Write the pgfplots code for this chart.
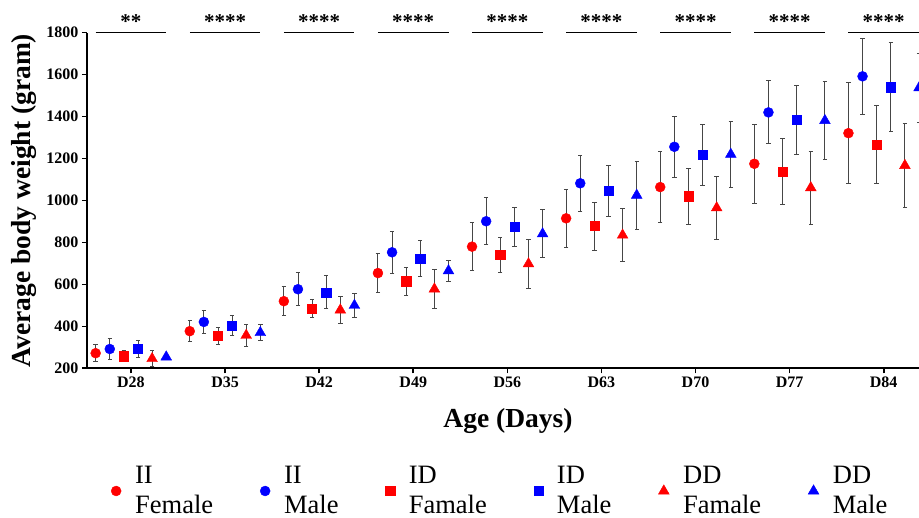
\documentclass[border=0pt]{standalone}
\usepackage{fontspec}
\setmainfont{Liberation Serif}
\usepackage{pgfplots}
\usepackage{pgfplotstable}
\pgfplotsset{compat=1.18}
\definecolor{myred}{RGB}{255,0,0}
\definecolor{myblue}{RGB}{0,0,255}
\definecolor{errgray}{RGB}{70,70,70}

% II Female
\pgfplotstableread{
x y e
-0.375 272 40
0.625 377 50
1.625 520 69
2.625 654 92
3.625 780 113
4.625 915 140
5.625 1064 170
6.625 1175 189
7.625 1321 240
}\IIF
% II Male
\pgfplotstableread{
x y e
-0.225 292 48
0.775 421 57
1.775 577 78
2.775 753 100
3.775 901 112
4.775 1082 133
5.775 1256 145
6.775 1420 150
7.775 1592 182
}\IIM
% ID Female
\pgfplotstableread{
x y e
-0.075 258 27
0.925 356 40
1.925 484 42
2.925 615 67
3.925 740 84
4.925 878 115
5.925 1020 133
6.925 1139 158
7.925 1267 185
}\IDF
% ID Male
\pgfplotstableread{
x y e
0.075 292 40
1.075 404 49
2.075 562 79
3.075 724 86
4.075 875 93
5.075 1045 120
6.075 1218 145
7.075 1384 165
8.075 1540 213
}\IDM
% DD Female
\pgfplotstableread{
x y e
0.225 246 38
1.225 357 51
2.225 478 64
3.225 578 91
4.225 698 117
5.225 835 127
6.225 965 150
7.225 1061 175
8.225 1167 202
}\DDF
% DD Male
\pgfplotstableread{
x y e
0.375 254 8
1.375 370 38
2.375 500 57
3.375 665 50
4.375 841 114
5.375 1025 163
6.375 1220 156
7.375 1381 185
8.375 1537 164
}\DDM

\pgfplotsset{
  errplot/.style={forget plot, only marks, mark=none,
    error bars/y dir=both, error bars/y explicit,
    error bars/error bar style={line width=0.9pt, draw=errgray},
    error bars/error mark options={rotate=90, mark size=2.2pt, line width=0.9pt, draw=errgray}},
}

\begin{document}
\begin{tikzpicture}
\begin{axis}[
  at={(0,0)}, anchor=south west,
  scale only axis, width=832pt, height=335.6pt,
  xmin=-0.467, xmax=8.375, ymin=200, ymax=1800,
  axis x line*=bottom, axis y line*=left,
  axis line style={line width=2.2pt, black},
  xtick={0,1,2,3,4,5,6,7,8},
  xticklabels={D28,D35,D42,D49,D56,D63,D70,D77,D84},
  ytick={200,400,600,800,1000,1200,1400,1600,1800},
  tick align=outside, major tick length=5pt,
  tick style={line width=1.6pt, black},
  minor tick num=0,
  /pgf/number format/assume math mode=true,
  /pgf/number format/1000 sep={},
  scaled y ticks=false,
  ticklabel style={font=\bfseries\fontsize{16}{19}\selectfont},
  xlabel={Age (Days)}, ylabel={Average body weight (gram)},
  label style={font=\bfseries\fontsize{27.5}{33}\selectfont},
  xlabel style={at={(axis description cs:0.506,-0.1779)}, anchor=base},
  ylabel style={at={(axis description cs:-0.0673,0.5)}, anchor=base},
  legend columns=6,
  legend cell align=left,
  legend image code/.code={\draw[#1] plot coordinates {(0pt,0pt)};},
  legend style={at={(axis description cs:0.0288,-0.3656)}, anchor=west,
    draw=none, fill=none, inner sep=0pt,
    font=\fontsize{26.5}{30}\selectfont,
    cells={align=left},
    nodes={inner sep=0pt},
    /tikz/every odd column/.append style={column sep=14pt},
    /tikz/every even column/.append style={column sep=47pt},
    /tikz/column 4/.append style={column sep=51pt},
    /tikz/column 6/.append style={column sep=56pt},
    /tikz/column 10/.append style={column sep=35pt},
  },
]
% error bars first (under the markers)
\addplot[errplot] table[x=x,y=y,y error=e]{\IIF};
\addplot[errplot] table[x=x,y=y,y error=e]{\IIM};
\addplot[errplot] table[x=x,y=y,y error=e]{\IDF};
\addplot[errplot] table[x=x,y=y,y error=e]{\IDM};
\addplot[errplot] table[x=x,y=y,y error=e]{\DDF};
\addplot[errplot] table[x=x,y=y,y error=e]{\DDM};
% markers
\addplot[only marks, mark=*, myred, mark size=5pt] table[x=x,y=y]{\IIF};
\addlegendentry{II\\Female}
\addplot[only marks, mark=*, myblue, mark size=5pt] table[x=x,y=y]{\IIM};
\addlegendentry{II\\Male}
\addplot[only marks, mark=square*, myred, mark size=4.6pt] table[x=x,y=y]{\IDF};
\addlegendentry{ID\\Famale}
\addplot[only marks, mark=square*, myblue, mark size=4.6pt] table[x=x,y=y]{\IDM};
\addlegendentry{ID\\Male}
\addplot[only marks, mark=triangle*, myred, mark size=6.2pt] table[x=x,y=y]{\DDF};
\addlegendentry{DD\\Famale}
\addplot[only marks, mark=triangle*, myblue, mark size=6.2pt] table[x=x,y=y]{\DDM};
\addlegendentry{DD\\Male}
\pgfplotsinvokeforeach{0,1,2,3,4,5,6,7,8}{
  \coordinate (L#1) at (axis cs:#1-0.375,1800);
  \coordinate (R#1) at (axis cs:#1+0.375,1800);
  \coordinate (M#1) at (axis cs:#1,1800);
}
\end{axis}
\foreach \i in {0,...,8} {
  \draw[line width=0.9pt, black] (L\i) -- (R\i);
}
\node[anchor=base, font=\bfseries\fontsize{21}{24}\selectfont] at ([yshift=4.5pt]M0) {**};
\foreach \i in {1,...,8} {
  \node[anchor=base, font=\bfseries\fontsize{21}{24}\selectfont] at ([yshift=4.5pt]M\i) {****};
}
\pgfresetboundingbox
\useasboundingbox (-87pt,-149.7pt) rectangle (832pt,368.3pt);
\end{tikzpicture}
\end{document}
